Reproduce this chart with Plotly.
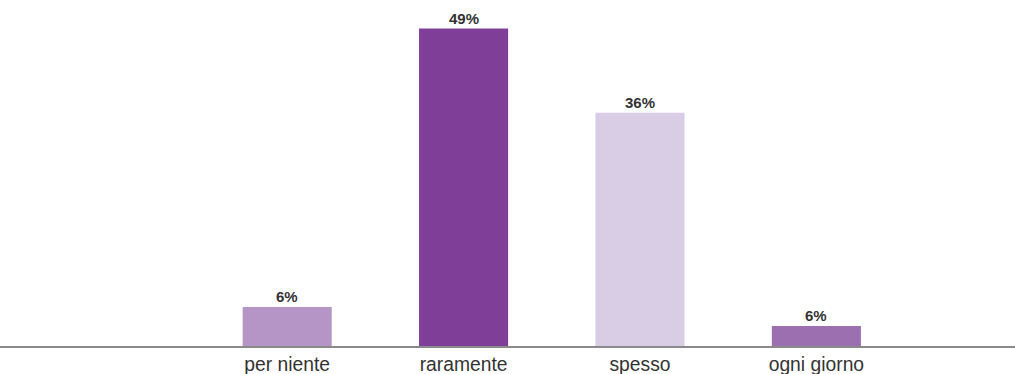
import plotly.graph_objects as go

categories = ["per niente", "raramente", "spesso", "ogni giorno"]
values = [6, 49, 36, 3.1]
labels = ["6%", "49%", "36%", "6%"]
colors = ["#b495c6", "#7f3f98", "#d9cce5", "#9b6fb0"]

fig = go.Figure()
fig.add_trace(go.Bar(
    x=categories, y=values,
    marker=dict(color=colors, line=dict(width=0)),
    hoverinfo="skip",
))
for c, v, t in zip(categories, values, labels):
    fig.add_annotation(x=c, y=v, text=f"<b>{t}</b>", showarrow=False,
                       yanchor="bottom", yshift=0,
                       font=dict(family="Liberation Sans, Arial, sans-serif", size=15, color="#333333"))

fig.update_layout(
    width=1015, height=374,
    margin=dict(l=0, r=0, t=0, b=28),
    paper_bgcolor="white", plot_bgcolor="white",
    bargap=0.495,
    showlegend=False,
    xaxis=dict(type="category", range=[-1.628, 4.126], showline=True, linecolor="#8a8a8a",
               linewidth=2, showgrid=False, zeroline=False, ticks="", automargin=False,
               ticklabelstandoff=0,
               tickfont=dict(family="Liberation Sans, Arial, sans-serif", size=19.3, color="#333333")),
    yaxis=dict(range=[0, 53.4], visible=False, showgrid=False, zeroline=False),
)
fig.write_html("out.html", config={"displayModeBar": False, "staticPlot": True},
               post_script="document.body.style.margin='0';document.body.style.overflow='hidden';")
